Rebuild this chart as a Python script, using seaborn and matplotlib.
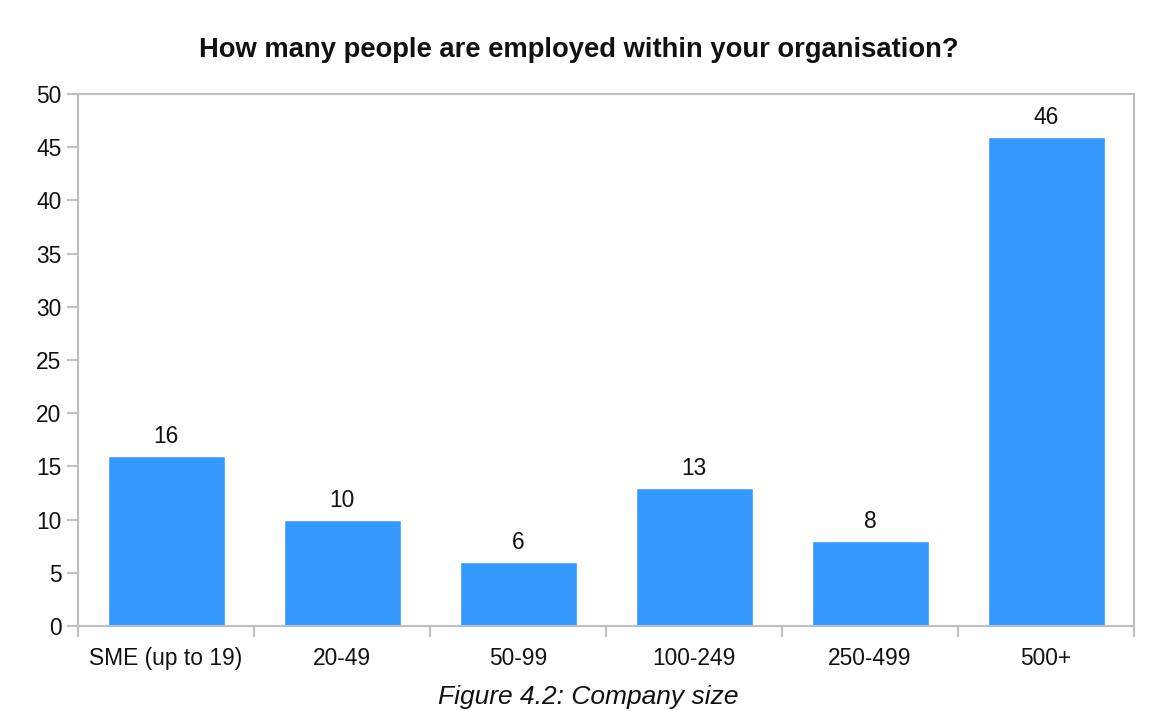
import matplotlib
matplotlib.use("Agg")
import matplotlib.pyplot as plt
import seaborn as sns
import pandas as pd

categories = ["SME (up to 19)", "20-49", "50-99", "100-249", "250-499", "500+"]
counts = [16, 10, 6, 13, 8, 46]
y_ticks = [0, 5, 10, 15, 20, 25, 30, 35, 40, 45, 50]

title = "How many people are employed within your organisation?"
caption = "Figure 4.2: Company size"

sns.set_theme(style="white")
plt.rcParams["font.family"] = ["Liberation Sans", "DejaVu Sans"]

df = pd.DataFrame({"size": categories, "count": counts})

fig = plt.figure(figsize=(11.58, 7.11), dpi=100)
ax = fig.add_axes([0.0674, 0.1195, 0.9119, 0.7483])

sns.barplot(data=df, x="size", y="count", color="#3399FF", saturation=1,
            width=0.665, ax=ax)

for i, v in enumerate(counts):
    ax.text(i, v + 0.75, f"{v}", ha="center", va="bottom", fontsize=16.4, color="#111111")

ax.set_ylim(0, 50)
ax.set_xlim(-0.5, len(categories) - 0.5)
ax.set_yticks(y_ticks)
ax.set_xlabel("")
ax.set_ylabel("")

# category separators as outward minor ticks
ax.set_xticks([i - 0.5 for i in range(len(categories) + 1)], minor=True)
ax.tick_params(axis="x", which="major", length=0, pad=15, labelsize=16.4, labelcolor="#111111")
ax.tick_params(axis="x", which="minor", bottom=True, length=8, width=1.5, color="#bfbfbf", direction="out")
ax.tick_params(axis="y", left=True, length=8, width=1.5, color="#bfbfbf", direction="out",
               labelsize=16.4, labelcolor="#111111", pad=4)

for s in ax.spines.values():
    s.set_visible(True)
    s.set_color("#bfbfbf")
    s.set_linewidth(1.5)

fig.text(0.5, 1 - 50 / 711, title, ha="center", va="center", fontsize=19.7, fontweight="bold", color="#111111")
fig.text(0.508, 1 - 697 / 711, caption, ha="center", va="center", fontsize=19, style="italic", color="#111111")

fig.savefig("out.png", dpi=100, facecolor="white")
